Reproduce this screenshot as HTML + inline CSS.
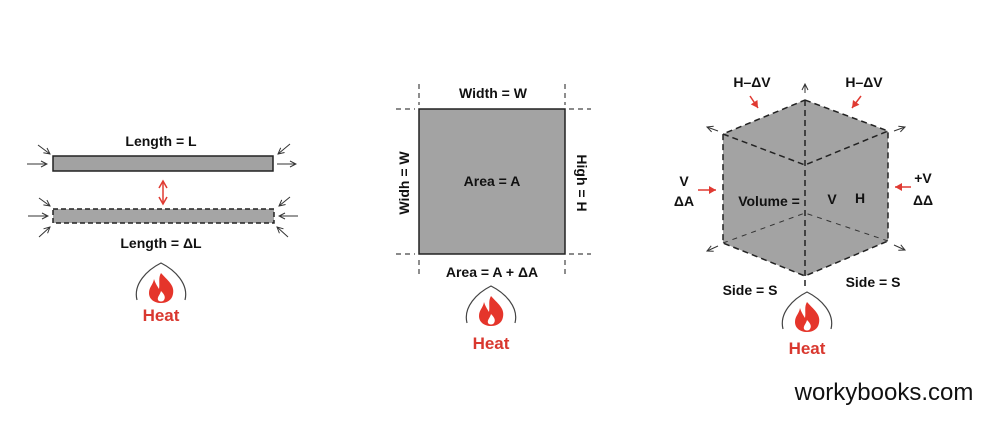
<!DOCTYPE html>
<html><head><meta charset="utf-8"><style>
html,body{margin:0;padding:0;background:#fff;}
svg{display:block;}
text{font-family:"Liberation Sans",sans-serif;}
</style></head><body>
<svg width="991" height="433" viewBox="0 0 991 433" xmlns="http://www.w3.org/2000/svg">
<defs>
<marker id="ah" markerWidth="8" markerHeight="8" refX="7" refY="4" orient="auto" markerUnits="userSpaceOnUse">
<path d="M1,1 L7,4 L1,7" fill="none" stroke="#333" stroke-width="1"/></marker>
<marker id="rh" markerWidth="10" markerHeight="10" refX="8" refY="5" orient="auto" markerUnits="userSpaceOnUse">
<path d="M1,1 L8,5 L1,9 Z" fill="#e03a32"/></marker>
<marker id="rh2" markerWidth="10" markerHeight="10" refX="8" refY="5" orient="auto-start-reverse" markerUnits="userSpaceOnUse">
<path d="M1,1 L8,5 L1,9" fill="none" stroke="#e03a32" stroke-width="1.5"/></marker>
<g id="fire">
<path d="M-24,12 C-28,-4 -14,-18 0,-25 C14,-18 28,-4 24,12" fill="none" stroke="#444" stroke-width="1.2"/>
<path d="M0,-15 C6,-8 14,-3 12,6 C11,12 6,15 0,15 C-7,15 -12,11 -12,5 C-12,-1 -8,-3 -7,-9 C-5,-3 -3,-1 -2,1 C-1,-5 -3,-10 0,-15Z" fill="#e5352b"/>
<path d="M0,3 C3,6 5,9 3,12 C2,14 -2,14 -3,12 C-4,9 -1,7 0,3Z" fill="#fff"/>
</g>
</defs>

<!-- LEFT -->
<text x="161" y="146" font-size="14" font-weight="bold" text-anchor="middle" fill="#111">Length = L</text>
<rect x="53" y="156" width="220" height="15" fill="#a2a2a2" stroke="#222" stroke-width="1.5"/>
<rect x="53" y="209" width="221" height="14" fill="#a5a5a5" stroke="#222" stroke-width="1.5" stroke-dasharray="5,3"/>
<line x1="163" y1="181" x2="163" y2="204" stroke="#e03a32" stroke-width="1.5" marker-end="url(#rh2)" marker-start="url(#rh2)"/>
<line x1="27" y1="164" x2="47" y2="164" stroke="#333" marker-end="url(#ah)"/>
<line x1="38" y1="145" x2="50" y2="154" stroke="#333" marker-end="url(#ah)"/>
<line x1="277" y1="164" x2="296" y2="164" stroke="#333" marker-end="url(#ah)"/>
<line x1="290" y1="144" x2="278" y2="154" stroke="#333" marker-end="url(#ah)"/>
<line x1="28" y1="216" x2="48" y2="216" stroke="#333" marker-end="url(#ah)"/>
<line x1="39" y1="198" x2="50" y2="206" stroke="#333" marker-end="url(#ah)"/>
<line x1="39" y1="237" x2="50" y2="227" stroke="#333" marker-end="url(#ah)"/>
<line x1="298" y1="216" x2="279" y2="216" stroke="#333" marker-end="url(#ah)"/>
<line x1="290" y1="197" x2="279" y2="206" stroke="#333" marker-end="url(#ah)"/>
<line x1="288" y1="237" x2="277" y2="227" stroke="#333" marker-end="url(#ah)"/>
<text x="161" y="248" font-size="14" font-weight="bold" text-anchor="middle" fill="#111">Length = ΔL</text>
<use href="#fire" x="161" y="288"/>
<text x="161" y="321" font-size="17" font-weight="bold" text-anchor="middle" fill="#d9382f">Heat</text>

<!-- MIDDLE -->
<g stroke="#444" stroke-width="1.2" stroke-dasharray="5,4">
<line x1="419" y1="84" x2="419" y2="105"/><line x1="565" y1="84" x2="565" y2="105"/>
<line x1="419" y1="260" x2="419" y2="278"/><line x1="565" y1="260" x2="565" y2="278"/>
<line x1="396" y1="109" x2="415" y2="109"/><line x1="569" y1="109" x2="591" y2="109"/>
<line x1="396" y1="254" x2="415" y2="254"/><line x1="569" y1="254" x2="591" y2="254"/>
</g>
<rect x="419" y="109" width="146" height="145" fill="#a3a3a3" stroke="#222" stroke-width="1.5"/>
<text x="493" y="98" font-size="14" font-weight="bold" text-anchor="middle" fill="#111">Width = W</text>
<text x="492" y="186" font-size="14" font-weight="bold" text-anchor="middle" fill="#111">Area = A</text>
<text transform="translate(409,183) rotate(-90)" font-size="14" font-weight="bold" text-anchor="middle" fill="#111">Widh = W</text>
<text transform="translate(577,183) rotate(90)" font-size="14" font-weight="bold" text-anchor="middle" fill="#111">High = H</text>
<text x="492" y="277" font-size="14" font-weight="bold" text-anchor="middle" fill="#111">Area = A + ΔA</text>
<use href="#fire" x="491" y="311"/>
<text x="491" y="349" font-size="17" font-weight="bold" text-anchor="middle" fill="#d9382f">Heat</text>

<!-- RIGHT cube -->
<polygon points="805,100 888,131 888,241 805,276 723,243 723,134" fill="#a3a3a3"/>
<g stroke="#222" stroke-width="1.5" stroke-dasharray="6,4" fill="none">
<polygon points="805,100 888,131 888,241 805,276 723,243 723,134"/>
<polyline points="723,134 805,165 888,131"/>
<line x1="805" y1="100" x2="805" y2="290"/>
</g>
<g stroke="#333" stroke-width="1" stroke-dasharray="5,5" fill="none">
<polyline points="723,243 805,213 888,241"/>
</g>
<line x1="805" y1="93" x2="805" y2="84" stroke="#333" marker-end="url(#ah)"/>
<line x1="718" y1="131" x2="707" y2="127" stroke="#333" marker-end="url(#ah)"/>
<line x1="894" y1="131" x2="905" y2="127" stroke="#333" marker-end="url(#ah)"/>
<line x1="718" y1="246" x2="707" y2="251" stroke="#333" marker-end="url(#ah)"/>
<line x1="894" y1="245" x2="905" y2="250" stroke="#333" marker-end="url(#ah)"/>
<line x1="750" y1="96" x2="758" y2="108" stroke="#e03a32" stroke-width="1.5" marker-end="url(#rh)"/>
<line x1="861" y1="96" x2="852" y2="108" stroke="#e03a32" stroke-width="1.5" marker-end="url(#rh)"/>
<line x1="698" y1="190" x2="716" y2="190" stroke="#e03a32" stroke-width="1.5" marker-end="url(#rh)"/>
<line x1="911" y1="187" x2="895" y2="187" stroke="#e03a32" stroke-width="1.5" marker-end="url(#rh)"/>
<text x="752" y="87" font-size="14" font-weight="bold" text-anchor="middle" fill="#111">H–ΔV</text>
<text x="864" y="87" font-size="14" font-weight="bold" text-anchor="middle" fill="#111">H–ΔV</text>
<text x="684" y="186" font-size="14" font-weight="bold" text-anchor="middle" fill="#111">V</text>
<text x="684" y="206" font-size="14" font-weight="bold" text-anchor="middle" fill="#111">ΔA</text>
<text x="923" y="183" font-size="14" font-weight="bold" text-anchor="middle" fill="#111">+V</text>
<text x="923" y="205" font-size="14" font-weight="bold" text-anchor="middle" fill="#111">ΔΔ</text>
<text x="769" y="206" font-size="14" font-weight="bold" text-anchor="middle" fill="#111">Volume =</text>
<text x="832" y="204" font-size="14" font-weight="bold" text-anchor="middle" fill="#111">V</text>
<text x="860" y="203" font-size="14" font-weight="bold" text-anchor="middle" fill="#111">H</text>
<text x="750" y="295" font-size="14" font-weight="bold" text-anchor="middle" fill="#111">Side = S</text>
<text x="873" y="287" font-size="14" font-weight="bold" text-anchor="middle" fill="#111">Side = S</text>
<use href="#fire" x="807" y="317"/>
<text x="807" y="354" font-size="17" font-weight="bold" text-anchor="middle" fill="#d9382f">Heat</text>

<text x="884" y="400" font-size="24" text-anchor="middle" fill="#111">workybooks.com</text>
</svg>
</body></html>
